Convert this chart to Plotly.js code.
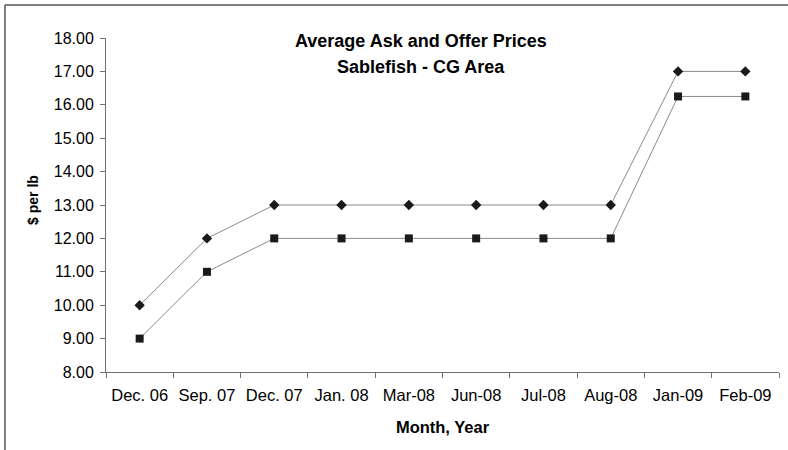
<!DOCTYPE html>
<html>
<head>
<meta charset="utf-8">
<script src="https://cdn.plot.ly/plotly-3.0.1.min.js"></script>
<style>html,body{margin:0;padding:0;background:#fff;}#chart{width:788px;height:450px;}</style>
</head>
<body>
<div id="chart"></div>
<script>
const months = ["Dec. 06","Sep. 07","Dec. 07","Jan. 08","Mar-08","Jun-08","Jul-08","Aug-08","Jan-09","Feb-09"];
const askPrices = [10, 12, 13, 13, 13, 13, 13, 13, 17, 17];
const offerPrices = [9, 11, 12, 12, 12, 12, 12, 12, 16.25, 16.25];
const yTicks = [8,9,10,11,12,13,14,15,16,17,18];

const FONT = "Liberation Sans, Arial, sans-serif";

const traces = [
  {
    x: months, y: askPrices, type: "scatter", mode: "lines+markers", name: "Ask",
    line: {color: "#8a8a8a", width: 1},
    marker: {symbol: "diamond", size: 8, color: "#1a1a1a"}
  },
  {
    x: months, y: offerPrices, type: "scatter", mode: "lines+markers", name: "Offer",
    line: {color: "#8a8a8a", width: 1},
    marker: {symbol: "square", size: 8, color: "#1a1a1a"}
  }
];

const layout = {
  width: 788, height: 450,
  margin: {l: 106, r: 9, t: 38, b: 78},
  paper_bgcolor: "#fff", plot_bgcolor: "#fff",
  showlegend: false,
  font: {family: FONT, color: "#000", size: 14},
  xaxis: {
    type: "category", range: [-0.5, 9.5],
    showline: true, linecolor: "#707070", linewidth: 1,
    ticks: "outside", tickson: "boundaries", ticklen: 5, tickcolor: "#707070",
    showgrid: false, zeroline: false,
    tickfont: {family: FONT, size: 16.5, color: "#000"},
    ticklabelstandoff: 8,
    title: {text: "<b>Month, Year</b>", font: {family: FONT, size: 16.5, color: "#000"}, standoff: 18}
  },
  yaxis: {
    range: [8, 18], tickvals: yTicks, tickformat: ".2f",
    showline: true, linecolor: "#707070", linewidth: 1,
    ticks: "outside", ticklen: 5, tickcolor: "#707070",
    showgrid: false, zeroline: false,
    tickfont: {family: FONT, size: 16, color: "#000"},
    ticklabelstandoff: 3
  },
  annotations: [
    {text: "<b>Average Ask and Offer Prices</b>", xref: "paper", yref: "paper",
     x: 0.468, y: 0.99, xanchor: "center", yanchor: "middle", showarrow: false,
     font: {family: FONT, size: 18, color: "#000"}},
    {text: "<b>Sablefish - CG Area</b>", xref: "paper", yref: "paper",
     x: 0.468, y: 0.912, xanchor: "center", yanchor: "middle", showarrow: false,
     font: {family: FONT, size: 18, color: "#000"}},
    {text: "<b>$ per lb</b>", xref: "paper", yref: "paper",
     x: -0.1085, y: 0.515, xanchor: "center", yanchor: "middle", textangle: -90, showarrow: false,
     font: {family: FONT, size: 14, color: "#000"}}
  ],
  shapes: [
    {type: "line", xref: "paper", yref: "paper", x0: -0.1501, x1: -0.1501, y0: 1.0988, y1: -0.5,
     line: {color: "#555", width: 1.5}},
    {type: "line", xref: "paper", yref: "paper", x0: -0.1501, x1: 1.2, y0: 1.0988, y1: 1.0988,
     line: {color: "#555", width: 1.5}}
  ]
};

Plotly.newPlot("chart", traces, layout, {displayModeBar: false, staticPlot: true});
</script>
</body>
</html>
